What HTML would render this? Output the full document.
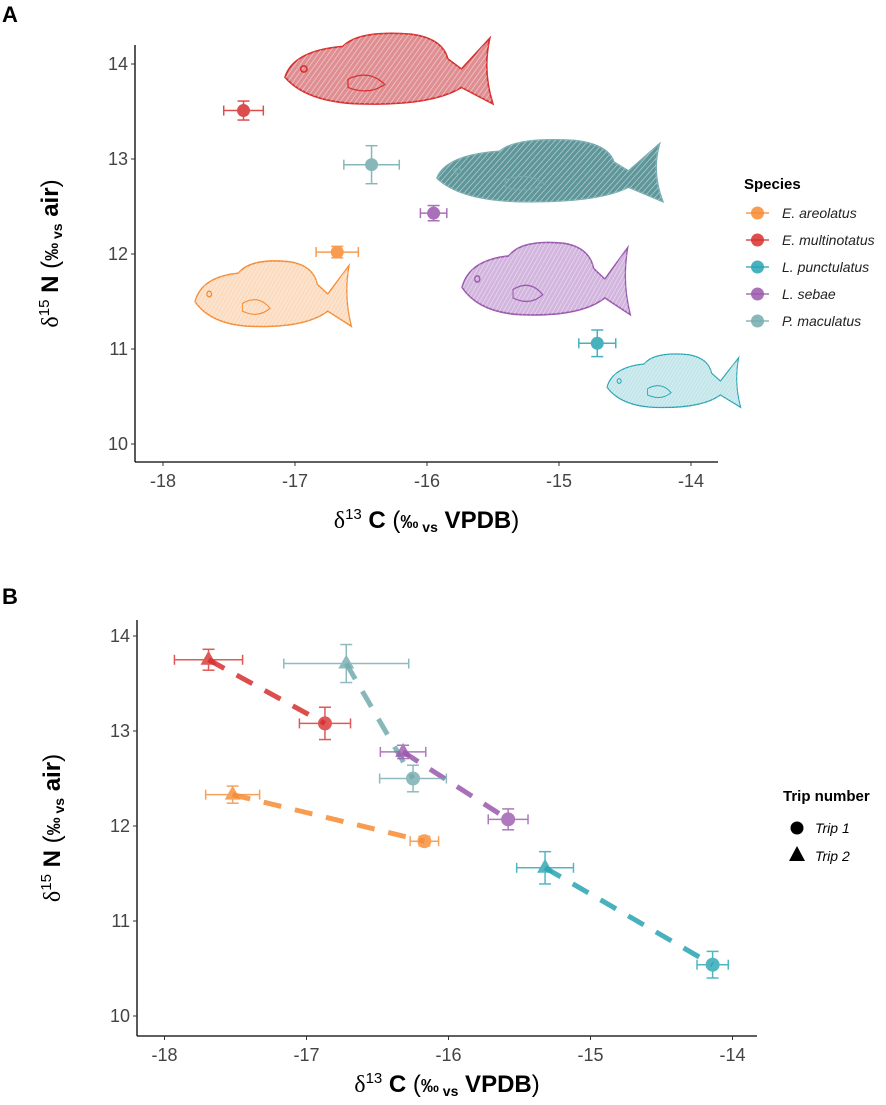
<!DOCTYPE html>
<html><head><meta charset="utf-8">
<style>
body{margin:0;background:#fff;}
svg{display:block;font-family:"Liberation Sans",Arial,sans-serif;}
</style></head>
<body>
<svg id="chart" width="886" height="1105" viewBox="0 0 886 1105">
<defs>
<pattern id="hatch" width="4" height="4" patternUnits="userSpaceOnUse" patternTransform="rotate(35)"><line x1="0" y1="0" x2="0" y2="4" stroke="#fff" stroke-width="1.4" opacity="0.55"/></pattern>
</defs>
<text x="2" y="22" font-size="22" font-weight="bold">A</text>
<text x="2" y="604" font-size="22" font-weight="bold">B</text>
<g id="fish"></g>
<g id="pa"></g>
<g id="pb"></g>
</svg>
<script>
const NS="http://www.w3.org/2000/svg";
const species=["E. areolatus","E. multinotatus","L. punctulatus","L. sebae","P. maculatus"];
const colors=["#f68b33","#d6302f","#27a4b3","#9a58ad","#74abae"];
// Panel A
const aX=[-16.68,-17.39,-14.71,-15.95,-16.42];
const aY=[12.02,13.51,11.06,12.43,12.94];
const aXerr=[0.16,0.15,0.14,0.1,0.21];
const aYerr=[0.06,0.1,0.14,0.08,0.2];
// Panel B  (trip 1 circles, trip 2 triangles)
const bX1=[-16.17,-16.87,-14.14,-15.58,-16.25];
const bY1=[11.84,13.08,10.54,12.07,12.5];
const bXerr1=[0.1,0.18,0.11,0.14,0.235];
const bYerr1=[0.05,0.17,0.14,0.11,0.14];
const bX2=[-17.52,-17.69,-15.32,-16.32,-16.72];
const bY2=[12.33,13.75,11.56,12.78,13.71];
const bXerr2=[0.19,0.24,0.2,0.16,0.44];
const bYerr2=[0.09,0.11,0.17,0.07,0.2];
const xTicks=[-18,-17,-16,-15,-14];
const yTicks=[10,11,12,13,14];

function el(tag,attrs,parent){const e=document.createElementNS(NS,tag);for(const k in attrs)e.setAttribute(k,attrs[k]);parent.appendChild(e);return e;}

function axes(g,P){
  const sx=v=>P.x0+(v+18)*P.kx, sy=v=>P.y14+(14-v)*P.ky;
  el('line',{x1:P.left,y1:P.top,x2:P.left,y2:P.bottom,stroke:'#000','stroke-width':1.3},g);
  el('line',{x1:P.left,y1:P.bottom,x2:P.right,y2:P.bottom,stroke:'#000','stroke-width':1.3},g);
  xTicks.forEach(t=>{
    const tk=el('line',{x1:sx(t),y1:P.bottom,x2:sx(t),y2:P.bottom+4,stroke:'#333'},g);
    
    
    const tx=el('text',{x:sx(t),y:P.bottom+25,'font-size':18,fill:'#444','text-anchor':'middle'},g);
    tx.textContent=String(t);
    
    
  });
  yTicks.forEach(t=>{
    const tk=el('line',{x1:P.left-4,y1:sy(t),x2:P.left,y2:sy(t),stroke:'#333'},g);
    
    
    const tx=el('text',{x:P.left-7,y:sy(t)+6,'font-size':18,fill:'#444','text-anchor':'end'},g);
    tx.textContent=t;
    
    
  });
  const xt=el('text',{x:(P.left+P.right)/2,y:P.bottom+P.tOff,'font-size':24,'text-anchor':'middle','font-weight':'bold'},g);
  xt.innerHTML='<tspan font-family="Liberation Serif" font-weight="normal">δ</tspan><tspan font-size="15" dy="-9" font-weight="normal">13</tspan><tspan dy="9"> C </tspan><tspan font-weight="normal">(</tspan><tspan font-size="18">‰</tspan><tspan font-size="14" dy="4"> vs</tspan><tspan dy="-4"> VPDB</tspan><tspan font-weight="normal">)</tspan>';
  
  
  const cy=(P.top+P.bottom)/2;
  const yt=el('text',{x:0,y:0,'font-size':24,'text-anchor':'middle','font-weight':'bold',transform:`translate(${P.left-77},${cy}) rotate(-90)`},g);
  yt.innerHTML='<tspan font-family="Liberation Serif" font-weight="normal">δ</tspan><tspan font-size="15" dy="-9" font-weight="normal">15</tspan><tspan dy="9"> N </tspan><tspan font-weight="normal">(</tspan><tspan font-size="18">‰</tspan><tspan font-size="14" dy="4"> vs</tspan><tspan dy="-4"> air</tspan><tspan font-weight="normal">)</tspan>';
  
  
  return {sx,sy};
}
function errbar(g,cx,cy,dx,dy,c){
  const o={stroke:c,'stroke-width':1.5};
  el('line',Object.assign({x1:cx-dx,y1:cy,x2:cx+dx,y2:cy},o),g);
  el('line',Object.assign({x1:cx-dx,y1:cy-5,x2:cx-dx,y2:cy+5},o),g);
  el('line',Object.assign({x1:cx+dx,y1:cy-5,x2:cx+dx,y2:cy+5},o),g);
  el('line',Object.assign({x1:cx,y1:cy-dy,x2:cx,y2:cy+dy},o),g);
  el('line',Object.assign({x1:cx-6,y1:cy-dy,x2:cx+6,y2:cy-dy},o),g);
  el('line',Object.assign({x1:cx-6,y1:cy+dy,x2:cx+6,y2:cy+dy},o),g);
}
// Panel A
const PA={left:135,right:718,top:45,bottom:462,x0:163,kx:132,y14:64,ky:95,tOff:66};
const ga=document.getElementById('pa');
const A=axes(ga,PA);
species.forEach((s,i)=>{
  const g=el('g',{opacity:0.85},ga);
  
  
  const cx=A.sx(aX[i]),cy=A.sy(aY[i]);
  errbar(g,cx,cy,aXerr[i]*PA.kx,aYerr[i]*PA.ky,colors[i]);
  el('circle',{cx,cy,r:6.5,fill:colors[i]},g);
});
// legend A
const la=el('g',{},ga);


el('text',{x:744,y:189,'font-size':15,'font-weight':'bold'},la).textContent='Species';
species.forEach((s,i)=>{
  const y=213+i*27;
  const g=el('g',{},la);
  
  
  el('line',{x1:746,y1:y,x2:769,y2:y,stroke:colors[i],'stroke-width':1.5,opacity:0.85},g);
  el('circle',{cx:757.5,cy:y,r:6.5,fill:colors[i],opacity:0.85},g);
  el('text',{x:782,y:y+5,'font-size':14,'font-style':'italic',fill:'#222'},g).textContent=s;
});
// Panel B
const PB={left:137,right:757,top:620,bottom:1036,x0:164.5,kx:142,y14:636,ky:95,tOff:56};
const gb=document.getElementById('pb');
const B=axes(gb,PB);
species.forEach((s,i)=>{
  const ln=el('line',{x1:B.sx(bX2[i]),y1:B.sy(bY2[i]),x2:B.sx(bX1[i]),y2:B.sy(bY1[i]),stroke:colors[i],'stroke-width':5,'stroke-dasharray':'18 14',opacity:0.85},gb);
  
  
});
species.forEach((s,i)=>{
  const g1=el('g',{opacity:0.8},gb);
  
  
  const c1x=B.sx(bX1[i]),c1y=B.sy(bY1[i]);
  errbar(g1,c1x,c1y,bXerr1[i]*PB.kx,bYerr1[i]*PB.ky,colors[i]);
  el('circle',{cx:c1x,cy:c1y,r:7,fill:colors[i]},g1);
  const g2=el('g',{opacity:0.8},gb);
  
  
  const c2x=B.sx(bX2[i]),c2y=B.sy(bY2[i]);
  errbar(g2,c2x,c2y,bXerr2[i]*PB.kx,bYerr2[i]*PB.ky,colors[i]);
  el('polygon',{points:`${c2x},${c2y-9} ${c2x-8},${c2y+5} ${c2x+8},${c2y+5}`,fill:colors[i]},g2);
});
const lb=el('g',{},gb);


el('text',{x:783,y:801,'font-size':15,'font-weight':'bold'},lb).textContent='Trip number';
el('circle',{cx:797,cy:828,r:6.5,fill:'#000'},lb);
el('text',{x:815,y:833,'font-size':14,'font-style':'italic'},lb).textContent='Trip 1';
el('polygon',{points:'797,846 789,861 805,861',fill:'#000'},lb);
el('text',{x:815,y:861,'font-size':14,'font-style':'italic'},lb).textContent='Trip 2';
// fish illustrations
const fg=document.getElementById('fish');
const fishes=[
 {x:285,y:28,w:210,h:82,c:colors[1],f:'#df8e92'},
 {x:437,y:135,w:228,h:72,c:colors[4],f:'#5f9699'},
 {x:462,y:237,w:170,h:84,c:colors[3],f:'#d3b6de'},
 {x:195,y:256,w:158,h:76,c:colors[0],f:'#fbdcc0'},
 {x:607,y:350,w:135,h:62,c:colors[2],f:'#c3e6ea'}
];
fishes.forEach((F,i)=>{
  const g=el('g',{transform:`translate(${F.x},${F.y}) scale(${F.w/200},${F.h/80})`},fg);
  
  
  const d='M0,48 Q8,22 55,18 Q70,2 120,6 Q150,10 155,30 L168,40 L195,10 Q188,42 198,74 L168,58 Q140,76 70,74 Q20,72 0,48 Z';
  el('path',{d,fill:F.f,stroke:F.c,'stroke-width':1.6},g);
  el('path',{d,fill:'url(#hatch)'},g);
  el('circle',{cx:18,cy:40,r:3,fill:'none',stroke:F.c,'stroke-width':1.5},g);
  el('path',{d:'M60,50 Q80,40 95,55 Q80,66 60,58 Z',fill:'none',stroke:F.c,'stroke-width':1.2},g);
});
</script>
</body></html>
